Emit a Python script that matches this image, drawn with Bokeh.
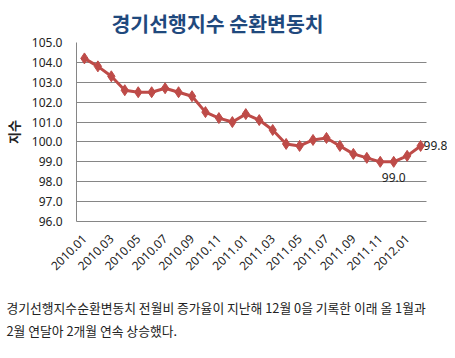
from bokeh.plotting import figure
from bokeh.models import Range1d, FixedTicker, Label, Title
from bokeh.embed import file_html
from bokeh.resources import INLINE

months = ["2010.01", "2010.02", "2010.03", "2010.04", "2010.05", "2010.06",
          "2010.07", "2010.08", "2010.09", "2010.10", "2010.11", "2010.12",
          "2011.01", "2011.02", "2011.03", "2011.04", "2011.05", "2011.06",
          "2011.07", "2011.08", "2011.09", "2011.10", "2011.11", "2011.12",
          "2012.01", "2012.02"]
values = [104.2, 103.8, 103.3, 102.6, 102.5, 102.5, 102.7, 102.5, 102.3, 101.5,
          101.2, 101.0, 101.4, 101.1, 100.6, 99.9, 99.8, 100.1, 100.2, 99.8,
          99.4, 99.2, 99.0, 99.0, 99.3, 99.8]
y_ticks = [96.0, 97.0, 98.0, 99.0, 100.0, 101.0, 102.0, 103.0, 104.0, 105.0]
title_text = "경기선행지수 순환변동치"
y_label = "지수"
caption = ["경기선행지수순환변동치  전월비 증가율이 지난해 12월 0을 기록한 이래 올 1월과",
           "2월 연달아 2개월 연속 상승했다."]
low_idx = 23
last_idx = 25

W, H = 447, 342
idx = list(range(len(months)))
plot_x = (-0.59, 25.46)      # extent of the plotting area (grid / axis line)

p = figure(width=W, height=H, output_backend="svg", toolbar_location=None,
           x_range=Range1d(plot_x[0], 27.0), y_range=Range1d(96, 105),
           min_border_left=70, min_border_right=0, min_border_top=41,
           min_border_bottom=121)
p.outline_line_color = None
p.background_fill_color = "white"
p.border_fill_color = "white"

# title
p.title.text = title_text
p.title.align = "left"
p.title.offset = 35
p.title.text_font = "Noto Sans CJK KR"
p.title.text_font_style = "bold"
p.title.text_font_size = "20.5px"
p.title.text_color = "#1F497D"

# axes
p.xaxis.bounds = plot_x
p.xaxis.ticker = FixedTicker(ticks=idx[::2])
p.xaxis.major_label_overrides = {i: months[i] for i in idx[::2]}
p.xaxis.major_label_orientation = 0.785398
p.xaxis.major_label_text_font = "Noto Sans"
p.xaxis.major_label_text_font_size = "12px"
p.xaxis.major_label_text_color = "#222222"
p.xaxis.major_tick_line_color = None
p.xaxis.minor_tick_line_color = None
p.xaxis.major_tick_out = 0
p.xaxis.major_tick_in = 0
p.xaxis.axis_line_color = "#868686"
p.xaxis.major_label_standoff = 15
p.xaxis.axis_label = " "
p.xaxis.axis_label_text_font_size = "1px"
p.xaxis.axis_label_standoff = 13

p.yaxis.ticker = FixedTicker(ticks=y_ticks)
p.yaxis.major_label_overrides = {t: f"{t:.1f}" for t in y_ticks}
p.yaxis.major_label_text_font = "Noto Sans"
p.yaxis.major_label_text_font_size = "12px"
p.yaxis.major_label_text_color = "#222222"
p.yaxis.major_tick_line_color = None
p.yaxis.minor_tick_line_color = None
p.yaxis.major_tick_out = 0
p.yaxis.major_tick_in = 0
p.yaxis.axis_line_color = "#868686"
p.yaxis.major_label_standoff = 14
p.yaxis.axis_label = y_label
p.yaxis.axis_label_text_font = "Noto Sans CJK KR"
p.yaxis.axis_label_text_font_style = "bold"
p.yaxis.axis_label_text_font_size = "13px"
p.yaxis.axis_label_text_color = "#222222"
p.yaxis.axis_label_standoff = 6

p.xgrid.grid_line_color = None
p.ygrid.grid_line_color = "#868686"
p.ygrid.grid_line_width = 1
p.ygrid.cross_bounds = plot_x

p.line(idx, values, line_color="#BE4B48", line_width=3)
p.scatter(idx, values, marker="diamond", size=11, fill_color="#BE4B48",
          line_color="#BE4B48")

p.add_layout(Label(x=low_idx, y=values[low_idx], text=f"{values[low_idx]:.1f}",
                   text_align="center", text_baseline="top", y_offset=-11,
                   text_font="Noto Sans", text_font_size="12px", text_color="#222222"))
p.add_layout(Label(x=last_idx, y=values[last_idx], text=f"{values[last_idx]:.1f}",
                   text_align="left", text_baseline="middle", x_offset=3,
                   text_font="Noto Sans", text_font_size="12px", text_color="#222222"))

# caption below
for line in caption:
    p.add_layout(Title(text=line, align="left", offset=-70,
                       text_font="Noto Sans CJK KR", text_font_size="12.8px",
                       text_font_style="normal", text_color="#222222",
                       standoff=2), "below")

open("out.html", "w").write(file_html(p, INLINE))
